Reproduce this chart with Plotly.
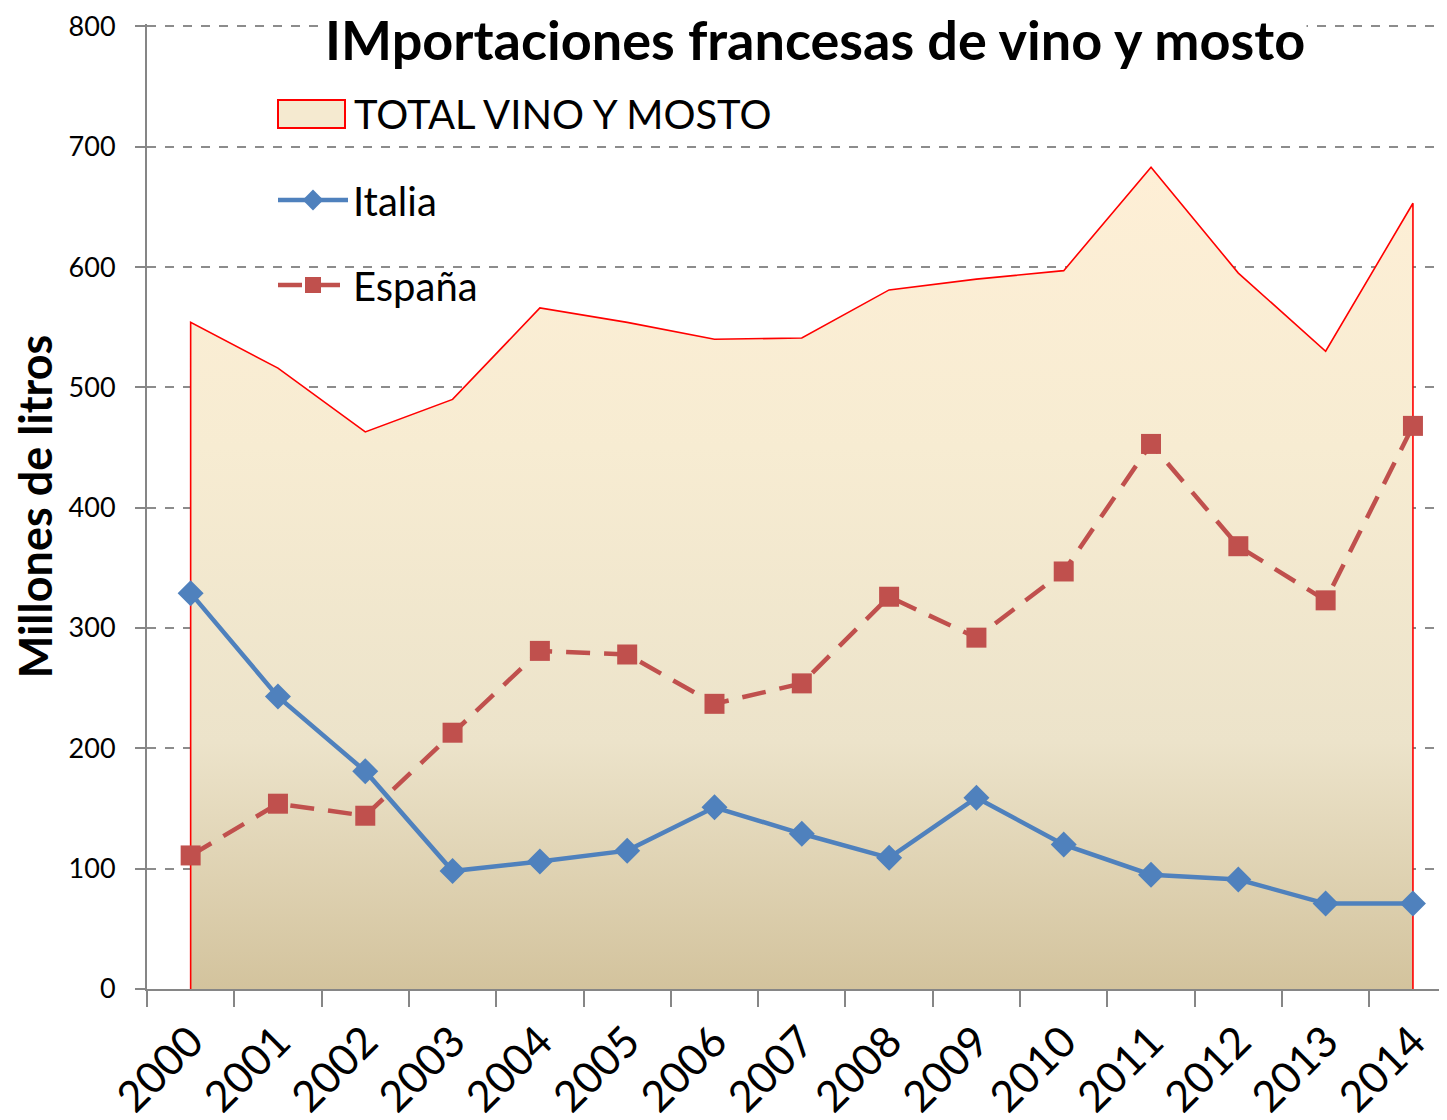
import plotly.graph_objects as go

years = ["2000", "2001", "2002", "2003", "2004", "2005", "2006", "2007",
         "2008", "2009", "2010", "2011", "2012", "2013", "2014"]
total = [554, 516, 463, 490, 566, 554, 540, 541, 581, 590, 597, 683, 595, 530, 653]
italia = [329, 243, 181, 98, 106, 115, 151, 129, 109, 159, 120, 95, 91, 71, 71]
espana = [111, 154, 144, 213, 281, 278, 237, 254, 326, 292, 347, 453, 368, 323, 468]
ytick_vals = [0, 100, 200, 300, 400, 500, 600, 700, 800]

FONT = "Lato"

fig = go.Figure()

# closed area polygon built from the data (vertical edges at first/last year)
area_x = [years[0]] + years + [years[-1]]
area_y = [0] + total + [0]
fig.add_trace(go.Scatter(
    x=area_x, y=area_y, name="TOTAL VINO Y MOSTO", mode="lines",
    fill="toself",
    fillgradient=dict(type="vertical",
                      colorscale=[[0, "#D3C39D"], [0.3, "#ECE3CA"],
                                  [0.66, "#F7ECD2"], [1, "#FEEFD6"]]),
    line=dict(color="#FF0000", width=1.6),
    showlegend=False, hoverinfo="skip",
))
fig.add_trace(go.Scatter(
    x=years, y=italia, name="Italia", mode="lines+markers",
    line=dict(color="#4F81BD", width=4.5),
    marker=dict(symbol="diamond", size=20, color="#4F81BD"),
    legend="legend2",
))
fig.add_trace(go.Scatter(
    x=years, y=espana, name="España", mode="lines+markers",
    line=dict(color="#C0504D", width=4.5, dash="24px,14px"),
    marker=dict(symbol="square", size=20, color="#C0504D"),
    legend="legend3",
))

# page body has an 8px margin: screen coords = figure coords + 8
# plot area on screen: x 147..1447, y 24..989
def py(px):
    return (989 - px) / 965.0

def px_(x):
    return (x - 147) / 1300.0

leg_common = dict(xanchor="left", yanchor="middle", bgcolor="rgba(0,0,0,0)",
                  font=dict(family=FONT, size=40, color="#000000"),
                  itemwidth=70, borderwidth=0)

fig.update_layout(
    width=1439, height=1112,
    margin=dict(l=139, r=0, t=16, b=131, autoexpand=False),
    paper_bgcolor="white", plot_bgcolor="white",
    showlegend=True,
    legend2=dict(x=px_(273), y=py(200), **leg_common),
    legend3=dict(x=px_(273), y=py(285), **leg_common),
    xaxis=dict(type="category", range=[-0.5, 14.39], tickson="boundaries",
               ticks="outside", ticklen=16, tickcolor="#868686", tickwidth=2,
               showline=True, linecolor="#868686", linewidth=2,
               showgrid=False, tickangle=-45, automargin=False,
               ticklabelstandoff=8,
               tickfont=dict(family=FONT, size=43, color="#000000")),
    yaxis=dict(range=[0, 802], tickvals=ytick_vals,
               ticks="outside", ticklen=10,
               tickcolor="#868686", tickwidth=2,
               showline=True, linecolor="#868686", linewidth=2,
               showgrid=True, gridcolor="#8C8C8C", griddash="dash", gridwidth=1.5,
               zeroline=False, automargin=False, ticklabelstandoff=14,
               tickfont=dict(family=FONT, size=27, color="#000000"),
               title=dict(text="<b>Millones de litros</b>", standoff=8,
                          font=dict(family=FONT, size=45, color="#000000"))),
    shapes=[dict(type="rect", xref="paper", yref="paper",
                 x0=px_(278), x1=px_(345), y0=py(128), y1=py(100),
                 fillcolor="#F5EAD0", line=dict(color="#FF0000", width=2))],
    annotations=[
        dict(text="<b>IMportaciones francesas de vino y mosto</b>",
             x=px_(815), y=py(40), xref="paper", yref="paper",
             xanchor="center", yanchor="middle", showarrow=False,
             bgcolor="white", font=dict(family=FONT, size=54, color="#000000")),
        dict(text="TOTAL VINO Y MOSTO",
             x=px_(352), y=py(114), xref="paper", yref="paper",
             xanchor="left", yanchor="middle", showarrow=False,
             font=dict(family=FONT, size=40, color="#000000")),
    ],
)

fig.write_html("out.html")
